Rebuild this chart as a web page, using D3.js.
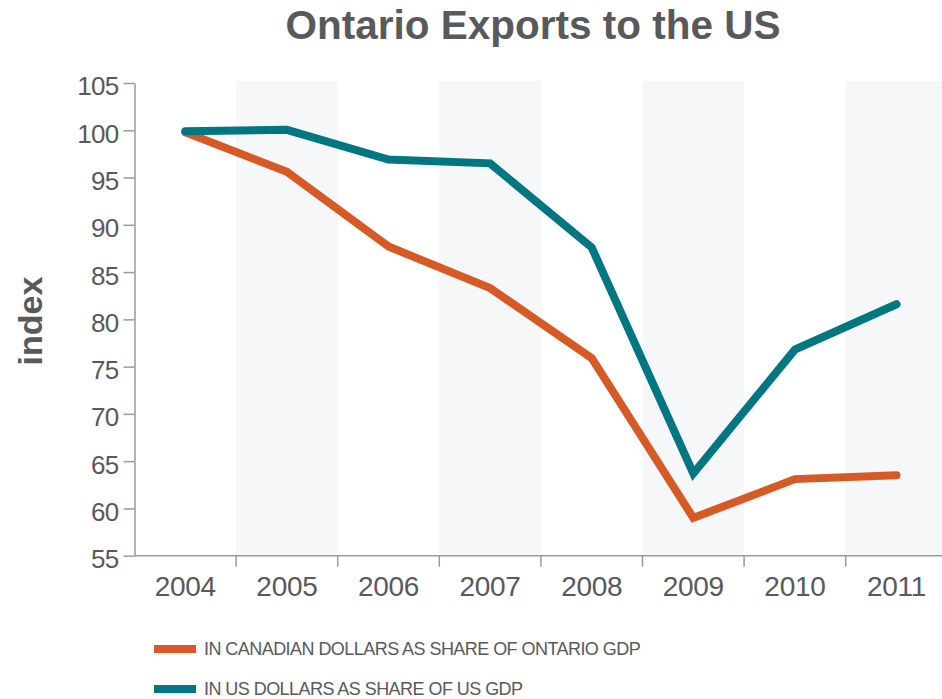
<!DOCTYPE html>
<html>
<head>
<meta charset="utf-8">
<script src="https://cdn.jsdelivr.net/npm/d3@7"></script>
<style>
  html, body { margin: 0; padding: 0; background: #fff; }
  svg { display: block; }
  text { font-family: "Liberation Sans", Arial, sans-serif; fill: #58595b; }
</style>
</head>
<body>
<svg id="chart" width="942" height="699"></svg>
<script>
// Index values (2004 = 100)
const years = ["2004", "2005", "2006", "2007", "2008", "2009", "2010", "2011"];
const cadShareOntarioGdp = [99.8, 95.6, 87.7, 83.3, 75.9, 59.0, 63.1, 63.5];
const usdShareUsGdp = [99.9, 100.05, 96.9, 96.5, 87.6, 63.7, 76.8, 81.6];
const yTicks = [55, 60, 65, 70, 75, 80, 85, 90, 95, 100, 105];
const seriesNames = [
  "IN CANADIAN DOLLARS AS SHARE OF ONTARIO GDP",
  "IN US DOLLARS AS SHARE OF US GDP"
];
const seriesColors = ["#d65a26", "#007680"];
const titleText = "Ontario Exports to the US";
const yLabel = "index";

const svg = d3.select("#chart");

const plotLeft = 134.5, plotTop = 83, plotBottom = 555.7, colW = 101.6;
const x = d3.scaleBand().domain(years).range([plotLeft, plotLeft + colW * years.length]);
const y = d3.scaleLinear().domain([55, 105]).range([plotBottom, plotTop]);

// alternating column shading
svg.append("g").selectAll("rect")
  .data(years.filter((d, i) => i % 2 === 1))
  .join("rect")
  .attr("x", d => x(d))
  .attr("y", y(105) - 2)
  .attr("width", x.bandwidth())
  .attr("height", plotBottom - y(105) + 2)
  .attr("fill", "#f5f7f9");

// y axis
const yAxis = svg.append("g")
  .attr("transform", `translate(${plotLeft},0)`)
  .call(d3.axisLeft(y).tickValues(yTicks).tickSize(11).tickSizeOuter(0).tickPadding(5));
yAxis.select(".domain").attr("stroke", "#9a9a9a").attr("stroke-width", 1.5);
yAxis.selectAll(".tick line").attr("stroke", "#9a9a9a").attr("stroke-width", 1.5);
yAxis.selectAll(".tick text")
  .attr("font-size", 26)
  .attr("letter-spacing", "-0.7px")
  .attr("dy", "0.46em")
  .style("font-family", '"Liberation Sans", Arial, sans-serif')
  .attr("fill", "#58595b");

// x axis: baseline, boundary ticks, centred year labels
const xAxis = svg.append("g")
  .attr("transform", `translate(0,${plotBottom})`)
  .call(d3.axisBottom(x).tickSize(0).tickSizeOuter(0).tickPadding(20));
xAxis.select(".domain").remove();
xAxis.append("line")
  .attr("x1", plotLeft).attr("x2", 942)
  .attr("stroke", "#9a9a9a").attr("stroke-width", 1.5);
xAxis.selectAll(".bound")
  .data(years.slice(1))
  .join("line")
  .attr("class", "bound")
  .attr("x1", d => x(d)).attr("x2", d => x(d))
  .attr("y1", 0).attr("y2", 11)
  .attr("stroke", "#9a9a9a").attr("stroke-width", 1.5);
xAxis.selectAll(".tick text")
  .attr("font-size", 28)
  .attr("letter-spacing", "-0.3px")
  .attr("dy", "0.71em")
  .style("font-family", '"Liberation Sans", Arial, sans-serif')
  .attr("fill", "#58595b");

// series lines
const line = d3.line()
  .x((d, i) => x(years[i]) + x.bandwidth() / 2)
  .y(d => y(d));

[cadShareOntarioGdp, usdShareUsGdp].forEach((vals, k) => {
  svg.append("path")
    .datum(vals)
    .attr("d", line)
    .attr("fill", "none")
    .attr("stroke", seriesColors[k])
    .attr("stroke-width", 8)
    .attr("stroke-linecap", "round")
    .attr("stroke-linejoin", "miter");
});

// title
svg.append("text")
  .attr("x", 533).attr("y", 38.5)
  .attr("text-anchor", "middle")
  .attr("font-size", 40.5)
  .attr("font-weight", "bold")
  .text(titleText);

// y axis title
svg.append("text")
  .attr("transform", "translate(42,321) rotate(-90)")
  .attr("text-anchor", "middle")
  .attr("font-size", 34)
  .attr("font-weight", "bold")
  .text(yLabel);

// legend
const legend = svg.append("g");
seriesNames.forEach((name, i) => {
  const cy = 649 + i * 40;
  legend.append("rect")
    .attr("x", 154).attr("y", cy - 4)
    .attr("width", 42).attr("height", 8)
    .attr("fill", seriesColors[i]);
  legend.append("text")
    .attr("x", 204).attr("y", cy + 6)
    .attr("font-size", 18)
    .attr("letter-spacing", "-0.55px")
    .text(name);
});
</script>
</body>
</html>
